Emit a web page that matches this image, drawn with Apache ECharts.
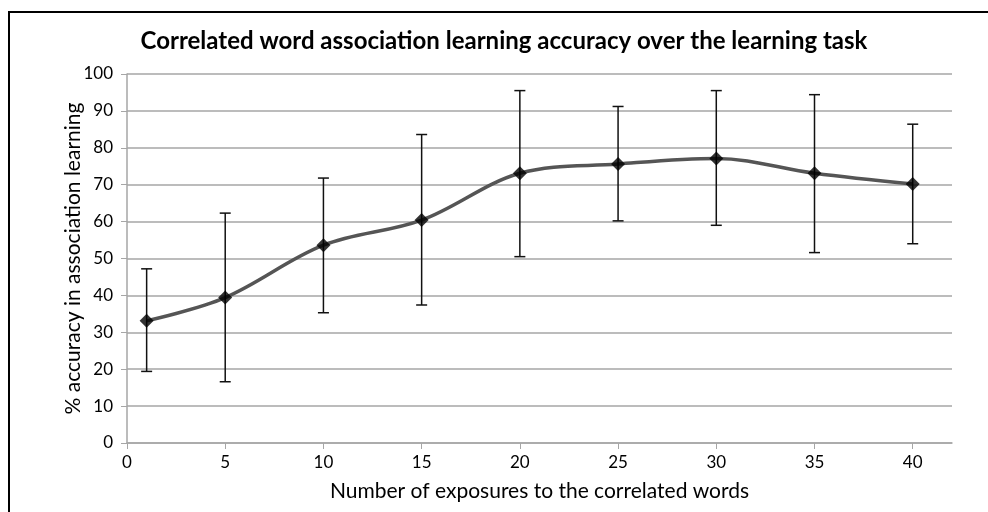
<!DOCTYPE html>
<html>
<head>
<meta charset="utf-8">
<script src="https://cdn.jsdelivr.net/npm/echarts@6/dist/echarts.min.js"></script>
<style>
    html, body { margin: 0; padding: 0; background: #fff; }
    #chart { width: 988px; height: 512px; }
</style>
</head>
<body>
<div id="chart"></div>
<script>
    // exposures (x) and mean accuracy with error bar ends
    const exposures = [1, 5, 10, 15, 20, 25, 30, 35, 40];
    const meanAcc = [33.1, 39.4, 53.6, 60.4, 73.1, 75.6, 77.1, 73.1, 70.2];
    const upperAcc = [47.2, 62.3, 71.8, 83.6, 95.5, 91.2, 95.5, 94.4, 86.4];
    const lowerAcc = [19.4, 16.6, 35.3, 37.4, 50.5, 60.2, 59.0, 51.6, 54.0];
    const xTicks = [0, 5, 10, 15, 20, 25, 30, 35, 40];

    const font = "Lato, 'Open Sans', sans-serif";
    const gray = "#a6a6a6";

    let chart = echarts.init(document.getElementById("chart"));

    let meanData = exposures.map((x, i) => [x, meanAcc[i]]);
    let barData = exposures.map((x, i) => [x, lowerAcc[i], upperAcc[i]]);

    function renderErrorBar(params, api) {
        let x = api.value(0);
        let top = api.coord([x, api.value(2)]);
        let bot = api.coord([x, api.value(1)]);
        let w = 5.5;
        let style = { stroke: "#111", lineWidth: 1.5 };
        return {
            type: "group",
            children: [
                { type: "line", shape: { x1: top[0], y1: top[1], x2: bot[0], y2: bot[1] }, style: style },
                { type: "line", shape: { x1: top[0] - w, y1: top[1], x2: top[0] + w, y2: top[1] }, style: style },
                { type: "line", shape: { x1: bot[0] - w, y1: bot[1], x2: bot[0] + w, y2: bot[1] }, style: style }
            ]
        };
    }

    let option = {
        animation: false,
        backgroundColor: "#fff",
        title: {
            text: "Correlated word association learning accuracy over the learning task",
            left: 499,
            textAlign: "center",
            top: 24,
            textStyle: { fontFamily: font, fontSize: 24, fontWeight: "bold", color: "#000" }
        },
        graphic: [{
            type: "rect",
            shape: { x: 9, y: 12, width: 1000, height: 520 },
            style: { fill: "none", stroke: "#000", lineWidth: 2 },
            silent: true
        }],
        grid: { left: 127, right: 36, top: 74, bottom: 69 },
        xAxis: {
            type: "value",
            min: 0,
            max: 42,
            interval: 5,
            name: "Number of exposures to the correlated words",
            nameLocation: "middle",
            nameGap: 38,
            nameMoveOverlap: false,
            nameTextStyle: { fontFamily: font, fontSize: 21, color: "#000" },
            axisLine: { lineStyle: { color: gray, width: 1.5 } },
            axisTick: { show: true, length: 6, customValues: xTicks, lineStyle: { color: gray } },
            axisLabel: {
                fontFamily: font, fontSize: 17, color: "#000", margin: 11,
                customValues: xTicks
            },
            splitLine: { show: false }
        },
        yAxis: {
            type: "value",
            min: 0,
            max: 100,
            interval: 10,
            name: "% accuracy in association learning",
            nameLocation: "middle",
            nameGap: 43,
            nameMoveOverlap: false,
            nameTextStyle: { fontFamily: font, fontSize: 21, color: "#000" },
            axisLine: { show: true, lineStyle: { color: gray, width: 1.5 } },
            axisTick: { show: true, length: 6, lineStyle: { color: gray } },
            axisLabel: { fontFamily: font, fontSize: 17, color: "#000", margin: 14 },
            splitLine: { lineStyle: { color: gray, width: 1.5 } }
        },
        series: [
            {
                type: "line",
                data: meanData,
                smooth: 0.35,
                showSymbol: false,
                lineStyle: { color: "#555", width: 3.5 },
                z: 2
            },
            {
                type: "custom",
                data: barData,
                renderItem: renderErrorBar,
                encode: { x: 0, y: [1, 2] },
                z: 3
            },
            {
                type: "scatter",
                data: meanData,
                symbol: "diamond",
                symbolSize: 14,
                itemStyle: { color: "#000" },
                z: 4
            }
        ]
    };

    chart.setOption(option);
</script>
</body>
</html>
